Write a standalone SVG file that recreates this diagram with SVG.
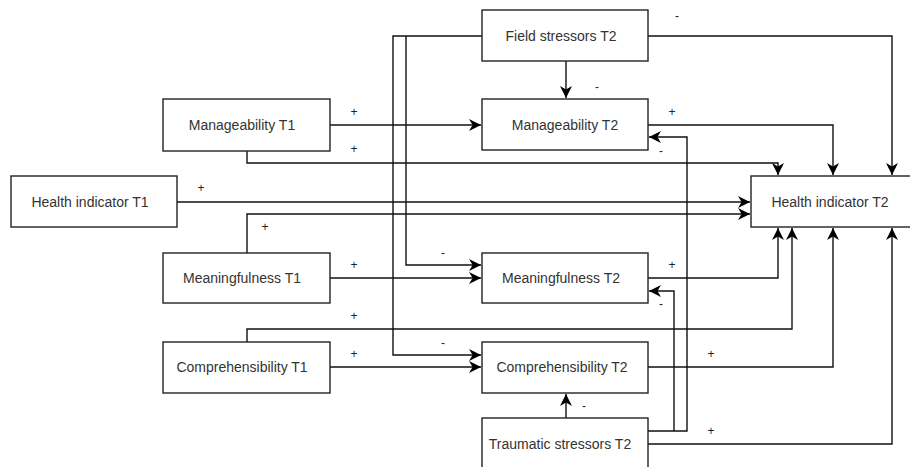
<svg xmlns="http://www.w3.org/2000/svg" width="910" height="467" viewBox="0 0 910 467">
<style>
.box{fill:#fff;stroke:#222;stroke-width:1.4}
.t{font-family:"Liberation Sans","Open Sans",Arial,sans-serif;font-size:14px;fill:#333;text-anchor:middle;dominant-baseline:central}
.c{fill:none;stroke:#111;stroke-width:1.4}
.l{font-family:"Liberation Sans",Arial,sans-serif;font-size:12px;fill:#222;text-anchor:middle}
</style>
<defs>
<marker id="ah" viewBox="0 0 10 10" refX="10" refY="5" markerWidth="12" markerHeight="12" markerUnits="userSpaceOnUse" orient="auto">
<path d="M0,0 L10,5 L0,10 L3,5 z" fill="#000"/>
</marker>
</defs>
<rect width="910" height="467" fill="#fff"/>
<g id="connectors">
<path class="c" d="M482,36 H393 V355 H481" marker-end="url(#ah)"/>
<path class="c" d="M406,36 V265 H481" marker-end="url(#ah)"/>
<path class="c" d="M566,61 V98" marker-end="url(#ah)"/>
<path class="c" d="M648,36 H892 V175" marker-end="url(#ah)"/>
<path class="c" d="M330,125 H481" marker-end="url(#ah)"/>
<path class="c" d="M247,151 V163 H778 V175" marker-end="url(#ah)"/>
<path class="c" d="M177,202 H750" marker-end="url(#ah)"/>
<path class="c" d="M247,253 V214 H750" marker-end="url(#ah)"/>
<path class="c" d="M648,125 H833 V175" marker-end="url(#ah)"/>
<path class="c" d="M648,431 H687 V137 H649" marker-end="url(#ah)"/>
<path class="c" d="M674,431 V291 H649" marker-end="url(#ah)"/>
<path class="c" d="M566,418 V394" marker-end="url(#ah)"/>
<path class="c" d="M648,444 H892 V228" marker-end="url(#ah)"/>
<path class="c" d="M648,278 H778 V228" marker-end="url(#ah)"/>
<path class="c" d="M247,342 V329 H792 V228" marker-end="url(#ah)"/>
<path class="c" d="M330,278 H481" marker-end="url(#ah)"/>
<path class="c" d="M330,367 H481" marker-end="url(#ah)"/>
<path class="c" d="M648,367 H833 V228" marker-end="url(#ah)"/>
<text class="l" x="677" y="20">-</text>
<text class="l" x="597" y="91">-</text>
<text class="l" x="354" y="116">+</text>
<text class="l" x="354" y="153">+</text>
<text class="l" x="672" y="116">+</text>
<text class="l" x="661" y="155">-</text>
<text class="l" x="201" y="192">+</text>
<text class="l" x="265" y="231">+</text>
<text class="l" x="443" y="257">-</text>
<text class="l" x="354" y="269">+</text>
<text class="l" x="672" y="269">+</text>
<text class="l" x="661" y="308">-</text>
<text class="l" x="354" y="320">+</text>
<text class="l" x="443" y="347">-</text>
<text class="l" x="354" y="358">+</text>
<text class="l" x="711" y="358">+</text>
<text class="l" x="584" y="410">-</text>
<text class="l" x="711" y="435">+</text>
</g>
<g id="field-stressors-t2"><rect class="box" x="482" y="10" width="166" height="51"/><text class="t" x="561" y="36">Field stressors T2</text></g>
<g id="manageability-t1"><rect class="box" x="163" y="99" width="167" height="52"/><text class="t" x="242" y="125">Manageability T1</text></g>
<g id="manageability-t2"><rect class="box" x="482" y="99" width="166" height="51"/><text class="t" x="565" y="125">Manageability T2</text></g>
<g id="health-indicator-t1"><rect class="box" x="11" y="176" width="166" height="51"/><text class="t" x="90" y="202">Health indicator T1</text></g>
<g id="health-indicator-t2"><rect class="box" x="751" y="176" width="170" height="51"/><text class="t" x="830" y="202">Health indicator T2</text></g>
<g id="meaningfulness-t1"><rect class="box" x="163" y="253" width="167" height="50"/><text class="t" x="242" y="278">Meaningfulness T1</text></g>
<g id="meaningfulness-t2"><rect class="box" x="482" y="253" width="166" height="50"/><text class="t" x="561" y="278">Meaningfulness T2</text></g>
<g id="comprehensibility-t1"><rect class="box" x="163" y="342" width="167" height="51"/><text class="t" x="242" y="367">Comprehensibility T1</text></g>
<g id="comprehensibility-t2"><rect class="box" x="482" y="342" width="166" height="51"/><text class="t" x="562" y="367">Comprehensibility T2</text></g>
<g id="traumatic-stressors-t2"><rect class="box" x="482" y="418" width="166" height="60"/><text class="t" x="560" y="444">Traumatic stressors T2</text></g>
</svg>
